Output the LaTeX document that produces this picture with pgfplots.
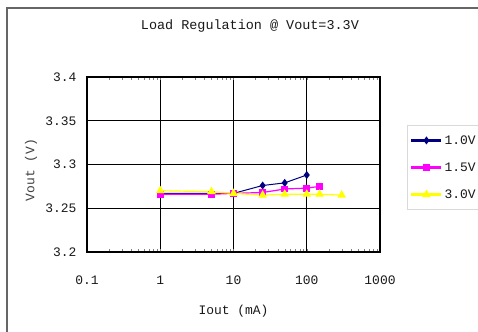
\documentclass[border=0pt]{standalone}
\usepackage{fontspec}
\setmainfont{Liberation Mono}
\usepackage{pgfplots}
\pgfplotsset{compat=1.18}
\definecolor{navy}{RGB}{0,0,128}
\definecolor{mag}{RGB}{255,0,255}
\definecolor{yel}{RGB}{255,255,0}
\begin{document}
\begin{tikzpicture}
\useasboundingbox (0,0) rectangle (478bp,332bp);
\fill[white] (0,0) rectangle (478bp,332bp);
\draw[gray!80!black, line width=2bp] (7bp,-5bp) -- (7bp,324bp) -- (490bp,324bp);
\begin{axis}[
  at={(87bp,80bp)}, anchor=south west,
  scale only axis, width=293bp, height=175bp,
  xmode=log, xmin=0.1, xmax=1000,
  ymin=3.2, ymax=3.4,
  xtick={0.1,1,10,100,1000},
  xticklabels={0.1,1,10,100,1000},
  ytick={3.2,3.25,3.3,3.35,3.4},
  yticklabels={3.2,3.25,3.3,3.35,3.4},
  minor xtick={},
  grid=major,
  major grid style={black, line width=1.1bp},
  axis line style={black, line width=1.1bp},
  major tick length=0pt,
  tick label style={font=\fontsize{13}{15}\selectfont, text=black!90},
  yticklabel style={xshift=-7bp},
  xticklabel style={yshift=-20bp},
  xlabel={Iout (mA)},
  ylabel={Vout (V)},
  xlabel style={at={(axis description cs:0.5,-0.337)}, anchor=center, font=\fontsize{13}{15}\selectfont, text=black!90},
  ylabel style={at={(axis description cs:-0.191,0.469)}, anchor=center, font=\fontsize{13}{15}\selectfont, text=black!75},
  title={Load Regulation @ Vout=3.3V},
  title style={at={(axis description cs:0.556,1.257)}, anchor=center, font=\fontsize{13.5}{15}\selectfont, text=black!90},
  legend style={at={(axis description cs:1.092,0.726)}, anchor=north west, draw=gray!30, line width=0.8bp,
     font=\fontsize{13}{15}\selectfont, row sep=13bp, inner xsep=3bp, inner ysep=8bp, text=black!90},
  legend cell align=left,
  legend image code/.code={\draw[#1, line width=2.2bp, mark=none] (0bp,0bp) -- (30bp,0bp); \draw[#1] plot[only marks] coordinates {(15bp,0bp)};},
]
\addplot[navy, line width=1bp, mark=diamond*, mark size=3.2bp, mark options={solid}] coordinates {
 (1,3.267) (5,3.267) (10,3.267) (25,3.276) (50,3.279) (100,3.288)};
\addlegendentry{1.0V}
\addplot[mag, line width=1.2bp, mark=square*, mark size=2.8bp] coordinates {
 (1,3.266) (5,3.266) (10,3.267) (25,3.268) (50,3.272) (100,3.273) (150,3.275)};
\addlegendentry{1.5V}
\addplot[yel, line width=1.2bp, mark=triangle*, mark size=3.8bp] coordinates {
 (1,3.270) (5,3.269) (10,3.267) (25,3.265) (50,3.266) (100,3.266) (150,3.266) (300,3.265)};
\addlegendentry{3.0V}
\end{axis}
\end{tikzpicture}
\end{document}
